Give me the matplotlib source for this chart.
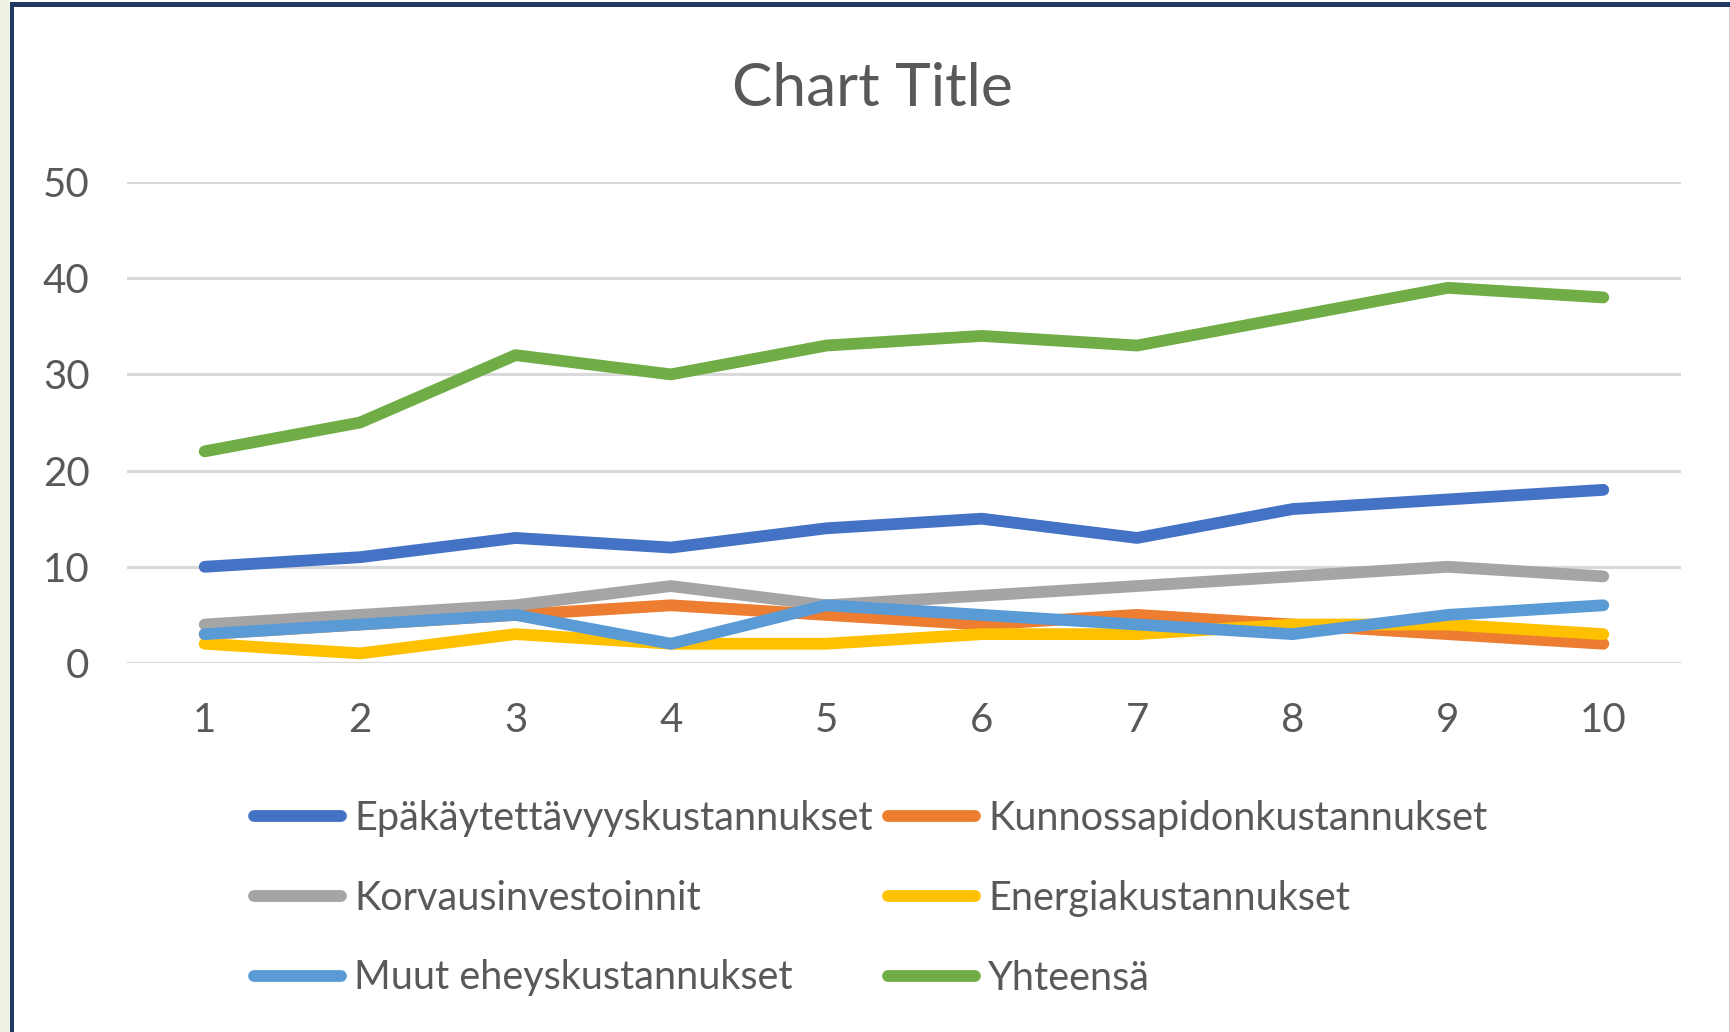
import matplotlib
matplotlib.use("Agg")
import matplotlib.pyplot as plt
from matplotlib.patches import Rectangle

categories = [1, 2, 3, 4, 5, 6, 7, 8, 9, 10]
series_names = ["Epäkäytettävyyskustannukset", "Kunnossapidonkustannukset",
                "Korvausinvestoinnit", "Energiakustannukset",
                "Muut eheyskustannukset", "Yhteensä"]
epakaytettavyys = [10, 11, 13, 12, 14, 15, 13, 16, 17, 18]
kunnossapito = [3, 4, 5, 6, 5, 4, 5, 4, 3, 2]
korvaus = [4, 5, 6, 8, 6, 7, 8, 9, 10, 9]
energia = [2, 1, 3, 2, 2, 3, 3, 4, 4, 3]
muut = [3, 4, 5, 2, 6, 5, 4, 3, 5, 6]
yhteensa = [22, 25, 32, 30, 33, 34, 33, 36, 39, 38]
colors = ["#4472C4", "#ED7D31", "#A5A5A5", "#FFC000", "#5B9BD5", "#70AD47"]
yticks = [0, 10, 20, 30, 40, 50]

plt.rcParams['font.family'] = ['Lato', 'DejaVu Sans']
TXT = "#595959"

W, H = 1731, 1032
fig = plt.figure(figsize=(W / 100, H / 100), dpi=100, facecolor="white")

# frame decorations
fig.patches.append(Rectangle((0, 0), 10 / W, 1, transform=fig.transFigure,
                             facecolor="#EEF2E3", edgecolor="none", zorder=0))
fig.patches.append(Rectangle((10 / W, 0), 4.5 / W, 1 - 2 / H, transform=fig.transFigure,
                             facecolor="#1F3864", edgecolor="none", zorder=1))
fig.patches.append(Rectangle((10 / W, 1 - 7 / H), 1 - 10 / W, 5 / H, transform=fig.transFigure,
                             facecolor="#1F3864", edgecolor="none", zorder=1))
fig.patches.append(Rectangle((1729 / W, 0), 2 / W, 1 - 7 / H, transform=fig.transFigure,
                             facecolor="#D0D0D0", edgecolor="none", zorder=1))

ax = fig.add_axes([127 / W, 369 / H, (1681 - 127) / W, (663 - 182) / H])
ax.set_facecolor("none")

LW = 8.5
data = [epakaytettavyys, kunnossapito, korvaus, energia, muut, yhteensa]
lines = []
for name, vals, c in zip(series_names, data, colors):
    ln, = ax.plot(categories, vals, color=c, lw=LW, solid_capstyle="round",
                  solid_joinstyle="round", label=name)
    lines.append(ln)

ax.set_xlim(0.5, 10.5)
ax.set_ylim(0, 50)
ax.set_yticks(yticks)
ax.set_xticks(categories)
ax.grid(axis="y", color="#D9D9D9", lw=2.3)
ax.set_axisbelow(True)
for s in ax.spines.values():
    s.set_visible(False)
ax.tick_params(axis="both", length=0, labelsize=29, labelcolor=TXT)
ax.tick_params(axis="y", pad=27)
ax.tick_params(axis="x", pad=28)

fig.text(872 / W, 1 - 89 / H, "Chart Title", ha="center", va="center",
         fontsize=43.5, color=TXT)

order = [0, 2, 4, 1, 3, 5]
leg = fig.legend([lines[i] for i in order], [series_names[i] for i in order],
                 ncol=2, loc="upper left", bbox_to_anchor=(254 / W, 1 - 800 / H),
                 frameon=False, fontsize=28.5, handlelength=2.2, handletextpad=0.33,
                 columnspacing=0.39, labelspacing=1.08, borderaxespad=0, borderpad=0,
                 labelcolor=TXT)
for h in leg.legend_handles:
    h.set_linewidth(LW)

fig.savefig("out.png", dpi=100, facecolor="white")
